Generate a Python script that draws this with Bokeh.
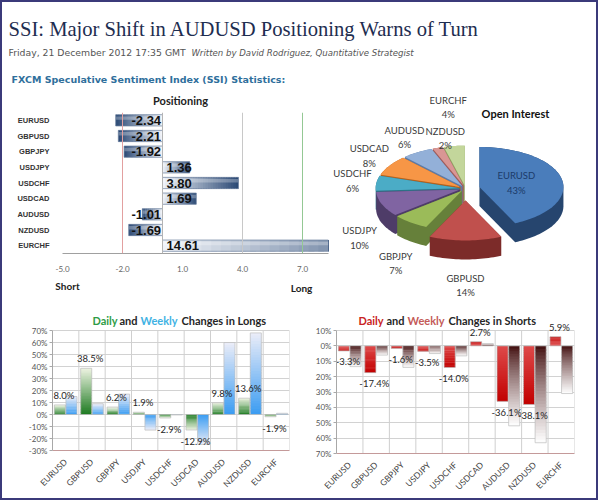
import numpy as np
from bokeh.plotting import figure
from bokeh.layouts import column, row
from bokeh.models import (Range1d, FactorRange, Span, FixedTicker,
                          NumeralTickFormatter, ColumnDataSource)
from bokeh.transform import dodge
from bokeh.core.properties import value
from bokeh.embed import file_html
from bokeh.resources import INLINE

# ---------------------------------------------------------------- data
pairs = ["EURUSD", "GBPUSD", "GBPJPY", "USDJPY", "USDCHF",
         "USDCAD", "AUDUSD", "NZDUSD", "EURCHF"]

# SSI: ratio of long to short positions (negative = net short)
ssi_ratio = [-2.34, -2.21, -1.92, 1.36, 3.80, 1.69, -1.01, -1.69, 14.61]
ssi_ticks = [-5.0, -2.0, 1.0, 4.0, 7.0]

# share of open interest, percent
oi_pct = [43, 14, 7, 10, 6, 8, 6, 2, 4]

# changes in long / short positions, percent
long_daily = [8.0, 38.5, 6.2, 1.9, -2.9, -12.9, 9.8, 13.6, -1.9]
long_weekly = [15.0, 9.0, 17.0, -13.0, -0.4, -25.0, 60.0, 68.0, 1.0]
short_daily = [-3.3, -17.4, -1.6, -3.5, -14.0, 2.7, -36.1, -38.1, 5.9]
short_weekly = [-13.5, -6.0, -14.0, -5.0, -6.5, 1.5, -52.0, -63.0, -31.0]
long_ticks = [-30, -20, -10, 0, 10, 20, 30, 40, 50, 60, 70]
short_ticks = [10, 0, -10, -20, -30, -40, -50, -60, -70]

SANS = "Lato"


# ---------------------------------------------------------------- helpers
def mix(c0, c1, t):
    a = [int(c0[i:i + 2], 16) for i in (1, 3, 5)]
    b = [int(c1[i:i + 2], 16) for i in (1, 3, 5)]
    return "#%02x%02x%02x" % tuple(int(round(a[k] + (b[k] - a[k]) * t)) for k in range(3))


def shaded(cats, vals, n, c_base, c_tip, gamma=1.0):
    """Cut every bar into n slices from zero to its value, shaded base -> tip.
    Each slice reaches a little into the next one so no seams show."""
    cat, lo, hi, col = [], [], [], []
    for c, v in zip(cats, vals):
        edges = np.linspace(0.0, v, n + 1)
        step = edges[1] - edges[0]
        for k in range(n):
            cat.append(c)
            lo.append(edges[k])
            hi.append(edges[k + 1] + (0.6 * step if k < n - 1 else 0.0))
            col.append(mix(c_base, c_tip, ((k + 0.5) / n) ** gamma))
    return ColumnDataSource(dict(cat=cat, lo=lo, hi=hi, color=col))


def base_fig(w, h, xr, yr, left=0, right=0, top=0, bottom=0):
    p = figure(width=w, height=h, x_range=xr, y_range=yr, output_backend="svg",
               toolbar_location=None, min_border=0)
    p.min_border_left, p.min_border_right = left, right
    p.min_border_top, p.min_border_bottom = top, bottom
    p.frame_align = False
    p.background_fill_color = "white"
    p.border_fill_color = "white"
    return p


def text_panel(x0, x1, y0, y1):
    """A blank strip addressed in page pixels, used for headings."""
    p = base_fig(x1 - x0, y1 - y0, Range1d(x0, x1), Range1d(y1, y0))
    p.axis.visible = False
    p.grid.visible = False
    p.outline_line_color = None
    return p


# ---------------------------------------------------------------- header
head = text_panel(2, 596, 2, 88)
head.text(x=[8], y=[28], text=["SSI: Major Shift in AUDUSD Positioning Warns of Turn"],
          text_font=value("Liberation Serif"), text_font_size="20.6px",
          text_color="#1e2d50", text_baseline="alphabetic")
head.text(x=[8], y=[52], text=["Friday, 21 December 2012 17:35 GMT"],
          text_font=value("DejaVu Sans"), text_font_size="9.3px",
          text_color="#555555", text_baseline="alphabetic")
head.text(x=[191], y=[52], text=["Written by David Rodriguez, Quantitative Strategist"],
          text_font=value("DejaVu Sans"), text_font_size="8.6px", text_font_style="italic",
          text_color="#555555", text_baseline="alphabetic")
head.text(x=[11], y=[79], text=["FXCM Speculative Sentiment Index (SSI) Statistics:"],
          text_font=value("DejaVu Sans"), text_font_size="9.5px", text_font_style="bold",
          text_color="#2f6f9c", text_baseline="alphabetic")

# ---------------------------------------------------------------- positioning (SSI)
pos_head = text_panel(2, 330, 88, 110)
pos_head.text(x=[180], y=[100], text=["Positioning"], text_align="center",
              text_baseline="middle", text_font=value(SANS), text_font_style="bold",
              text_font_size="11px", text_color="#222222")

# frame spans x 62..328, y 112..253 on the page
pos = base_fig(328, 166, Range1d(-5, 8.3), FactorRange(factors=pairs[::-1]),
               left=60, right=2, top=2, bottom=23)
pos.grid.visible = False
pos.outline_line_color = None
pos.xaxis.ticker = FixedTicker(ticks=ssi_ticks)
pos.xaxis.formatter = NumeralTickFormatter(format="0.0")
pos.xaxis.major_label_text_font_size = "8px"
pos.xaxis.major_label_text_color = "#666666"
pos.xaxis.major_label_text_font = SANS
pos.xaxis.axis_line_color = "#a0a0a0"
pos.xaxis.major_tick_line_color = None
pos.xaxis.minor_tick_line_color = None
pos.xaxis.major_label_standoff = 6
pos.yaxis.major_label_text_font_size = "7.5px"
pos.yaxis.major_label_text_font = "Liberation Sans"
pos.yaxis.major_label_text_font_style = "bold"
pos.yaxis.major_label_text_color = "#333333"
pos.yaxis.axis_line_color = None
pos.yaxis.major_tick_line_color = None
pos.yaxis.major_label_standoff = 7

for loc, col in zip([-2.0, 0.0, 4.0, 7.0], ["#e2a0a0", "#b4b4b4", "#c8c8c8", "#94c894"]):
    pos.add_layout(Span(location=loc, dimension="height", line_color=col, line_width=1))

pos.hbar(y="cat", left="lo", right="hi", height=0.72, fill_color="color", line_color=None,
         source=shaded(pairs, ssi_ratio, 30, "#f2f5fa", "#2a4874"))
# soft highlight along the upper edge of each bar
pos.hbar(y=dodge("y", 0.14, range=pos.y_range), left=0, right="v", height=0.22,
         fill_color="white", fill_alpha=0.28, line_color=None,
         source=ColumnDataSource(dict(y=pairs, v=ssi_ratio)))
pos.hbar(y=pairs, left=0, right=ssi_ratio, height=0.72, fill_color=None,
         line_color="#6b7f9e", line_width=0.7)

ssi_arr = np.array(ssi_ratio)
pos.text(x=np.where(ssi_arr < 0, -0.07, 0.2), y=pairs,
         text=["%.2f" % v for v in ssi_ratio],
         text_align=["right" if v < 0 else "left" for v in ssi_ratio],
         text_baseline="middle", text_font=value("Liberation Sans"),
         text_font_style="bold", text_font_size="13px", text_color="#111111")

pos_foot = text_panel(2, 330, 276, 300)
pos_foot.text(x=[67, 301], y=[285, 287], text=["Short", "Long"], text_align="center",
              text_baseline="middle", text_font=value(SANS), text_font_style="bold",
              text_font_size="10px", text_color="#222222")

# ---------------------------------------------------------------- open interest pie
pie = text_panel(330, 596, 88, 300)
cx, cy, rx, ry, depth = 465.0, 188.0, 84.0, 40.0, 19.0
explode = {"EURUSD": 0.17, "GBPUSD": 0.30}
top_colors = ["#4a7dbb", "#c0504d", "#9bbb59", "#8064a2", "#4bacc6",
              "#f79646", "#93b0d8", "#d99694", "#c3d69b"]
side_colors = ["#26456e", "#7c2b29", "#66803a", "#4e3c68", "#2d7186",
               "#b4621e", "#5e7ba6", "#a05c5a", "#8ca25e"]
nudge = {"EURCHF": (-3, -21), "NZDUSD": (15, 8)}

shares = np.array(oi_pct, dtype=float)
cum = np.concatenate([[0.0], np.cumsum(shares)]) / shares.sum()
a_start = np.pi / 2 - 2 * np.pi * cum[:-1]
a_end = np.pi / 2 - 2 * np.pi * cum[1:]
a_mid = (a_start + a_end) / 2


def hull(px, py):
    pts = sorted(set(zip(np.round(px, 3), np.round(py, 3))))

    def cross(o, a, b):
        return (a[0] - o[0]) * (b[1] - o[1]) - (a[1] - o[1]) * (b[0] - o[0])
    lower, upper = [], []
    for pt in pts:
        while len(lower) >= 2 and cross(lower[-2], lower[-1], pt) <= 0:
            lower.pop()
        lower.append(pt)
    for pt in reversed(pts):
        while len(upper) >= 2 and cross(upper[-2], upper[-1], pt) <= 0:
            upper.pop()
        upper.append(pt)
    h = lower[:-1] + upper[:-1]
    return [q[0] for q in h], [q[1] for q in h]


faces = []
for i, name in enumerate(pairs):
    e = explode.get(name, 0.07)
    ox, oy = e * rx * np.cos(a_mid[i]), -e * ry * np.sin(a_mid[i])
    t = np.linspace(a_start[i], a_end[i], max(10, int(shares[i] * 2)))
    xs = np.concatenate([[cx + ox], cx + ox + rx * np.cos(t)])
    ys = np.concatenate([[cy + oy], cy + oy - ry * np.sin(t)])
    sx, sy = hull(np.concatenate([xs, xs]), np.concatenate([ys, ys + depth]))
    faces.append((ys.mean(), sx, sy, list(xs), list(ys), i))

pxs, pys, pcols = [], [], []
for _, sx, sy, xs, ys, i in sorted(faces, key=lambda f: f[0]):
    pxs += [sx, xs]
    pys += [sy, ys]
    pcols += [side_colors[i], top_colors[i]]
pie.patches(xs=pxs, ys=pys, fill_color=pcols, line_color=None)

lab_x, lab_y, lab_t, lab_c = [], [], [], []
for i, name in enumerate(pairs):
    e = explode.get(name, 0.07)
    c, s = np.cos(a_mid[i]), np.sin(a_mid[i])
    ox, oy = e * rx * c, -e * ry * s
    if name == "EURUSD":
        lx, ly = cx + ox + 0.45 * rx * c, cy + oy - 0.45 * ry * s
        lab_c.append("#1c3b69")
    else:
        lx = cx + ox + 108 * c
        ly = cy + oy - 58 * s + (depth + 8 if s < 0 else 0)
        lab_c.append("#3a3a3a")
    dx, dy = nudge.get(name, (0, 0))
    lab_x.append(lx + dx)
    lab_y.append(ly + dy)
    lab_t.append("%s\n%d%%" % (name, oi_pct[i]))
pie.text(x=lab_x, y=lab_y, text=lab_t, text_color=lab_c, text_align="center",
         text_baseline="middle", text_font=value(SANS), text_font_size="9.5px",
         text_line_height=1.3)
pie.text(x=[515], y=[113], text=["Open Interest"], text_align="center",
         text_baseline="middle", text_font=value(SANS), text_font_style="bold",
         text_font_size="11px", text_color="#111111")


# ---------------------------------------------------------------- change charts
def change_chart(w, y_lo, y_top, ticks, tick_text, left, right, bottom):
    """Bar panel whose frame runs up to the top of the figure; the strip above
    the top tick carries the heading."""
    p = base_fig(w, 198, FactorRange(factors=pairs), Range1d(y_lo, y_top),
                 left=left, right=right, top=0, bottom=bottom)
    lo_t, hi_t = min(ticks), max(ticks)
    p.xgrid.visible = False
    p.ygrid.ticker = FixedTicker(ticks=ticks)
    p.ygrid.grid_line_color = "#d2d2d2"
    p.outline_line_color = None
    p.yaxis.ticker = FixedTicker(ticks=ticks)
    p.yaxis.bounds = (lo_t, hi_t)
    p.yaxis.major_label_overrides = {t: s for t, s in zip(ticks, tick_text)}
    p.yaxis.major_label_text_font_size = "8px"
    p.yaxis.major_label_text_font = SANS
    p.yaxis.major_label_text_color = "#555555"
    p.yaxis.axis_line_color = "#a8a8a8"
    p.yaxis.major_tick_line_color = "#a8a8a8"
    p.yaxis.major_tick_in = 0
    p.yaxis.major_tick_out = 3
    p.yaxis.minor_tick_line_color = None
    p.yaxis.major_label_standoff = 2
    p.xaxis.major_label_orientation = np.pi / 4
    p.xaxis.major_label_text_font_size = "8.5px"
    p.xaxis.major_label_text_font = SANS
    p.xaxis.major_label_text_color = "#444444"
    p.xaxis.axis_line_color = "#c49a9a"
    p.xaxis.major_tick_line_color = None
    p.xaxis.major_label_standoff = 4
    # category separators and right-hand border, limited to the value range
    n = len(pairs)
    p.segment(x0=list(range(1, n + 1)), x1=list(range(1, n + 1)),
              y0=[lo_t] * n, y1=[hi_t] * n, line_color="#cfcfcf", line_width=1)
    return p


def draw_pair(p, daily, weekly, d_cols, w_cols, d_gamma, w_gamma, lab_up, lab_dn):
    for vals, off, (c0, c1), g in ((daily, -0.22, d_cols, d_gamma), (weekly, 0.22, w_cols, w_gamma)):
        p.vbar(x=dodge("cat", off, range=p.x_range), bottom="lo", top="hi", width=0.42,
               fill_color="color", line_color=None,
               source=shaded(pairs, vals, 30, c0, c1, g))
        p.vbar(x=dodge("x", off, range=p.x_range), bottom=0, top="v", width=0.42,
               fill_color=None, line_color="#bdbdbd", line_width=0.7,
               source=ColumnDataSource(dict(x=pairs, v=vals)))
    d = np.array(daily)
    p.text(x=dodge("x", -0.07, range=p.x_range), y="y", text="t",
           source=ColumnDataSource(dict(x=pairs, y=np.where(d >= 0, d + lab_up, d - lab_dn),
                                        t=["%.1f%%" % v for v in daily])),
           text_align="center", text_baseline="middle", text_font=value(SANS),
           text_font_size="9.5px", text_color="#262626")


def heading(p, frame_left, cat_w, y, parts):
    for px, txt, col in parts:
        p.text(x=[(px - frame_left) / cat_w], y=[y], text=[txt], text_align="left",
               text_baseline="middle", text_font=value(SANS), text_font_style="bold",
               text_font_size="11px", text_color=col)


# longs: frame spans x 52..289; 70%..-30% covers y 330..450 on the page (1.2 px per %)
longs = change_chart(298, -30, 70 + 30 / 1.2, long_ticks, ["%d%%" % t for t in long_ticks],
                     left=50, right=11, bottom=48)
draw_pair(longs, long_daily, long_weekly, ("#1c7a20", "#eef3e2"), ("#3a9cf2", "#ecedf8"),
          1.0, 1.0, 8.0, 9.5)
heading(longs, 52, 237 / 9, 70 + 10 / 1.2,
        [(92, "Daily", "#2e9c46"), (119, "and", "#262626"),
         (140, "Weekly", "#3fb2e3"), (181, "Changes in Longs", "#262626")])

# shorts: frame spans x 336..574; +10%..-70% covers y 330..453 on the page
sh_px = 123 / 80
shorts = change_chart(296, -70, 10 + 30 / sh_px, short_ticks,
                      ["%d%%" % abs(t) for t in short_ticks],
                      left=36, right=22, bottom=45)
draw_pair(shorts, short_daily, short_weekly, ("#de4a4a", "#c20000"), ("#3e0a0a", "#ffffff"),
          1.0, 0.8, 6.3, 7.0)
heading(shorts, 336, 238 / 9, 10 + 10 / sh_px,
        [(358, "Daily", "#c92222"), (386, "and", "#262626"),
         (407, "Weekly", "#c45a58"), (448, "Changes in Shorts", "#262626")])

# ---------------------------------------------------------------- page
root = column(head,
              row(column(pos_head, pos, pos_foot), pie),
              row(longs, shorts),
              styles={"border": "2px solid #3b3a7a", "background-color": "white"})
open("out.html", "w").write(file_html(root, INLINE, title="SSI"))
